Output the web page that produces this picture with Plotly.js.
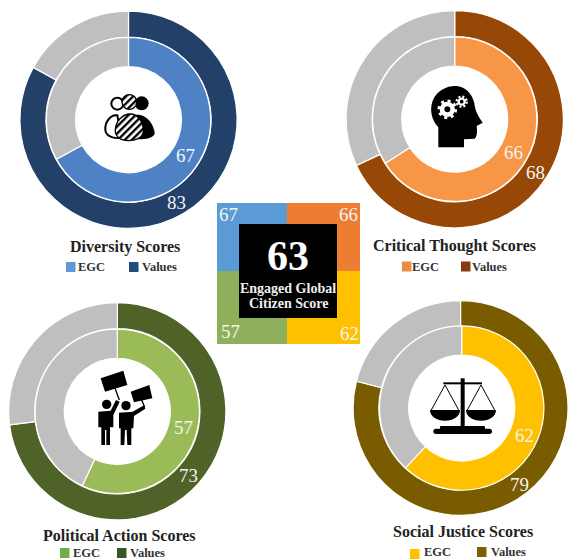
<!DOCTYPE html>
<html><head><meta charset="utf-8">
<script src="https://cdn.plot.ly/plotly-3.0.1.min.js"></script>
<style>html,body{margin:0;padding:0;background:#fff}#c{width:568px;height:560px}</style>
</head><body><div id="c"></div>
<script>
var W=568,H=560;
var chartTitles=["Diversity Scores","Critical Thought Scores","Political Action Scores","Social Justice Scores"];
var egcValues=[67,66,57,62];
var valuesValues=[83,68,73,79];
var overallScore=63;
var overallLabel=["Engaged Global","Citizen Score"];
var legendNames=["EGC","Values"];
var egcColors=["#4f81c5","#f79646","#9bbb59","#ffc000"];
var valueColors=["#234168","#974806","#4f6228","#7a5c00"];
var legendEgcColors=["#5b9bd5","#ed8a43","#70ad47","#ffc000"];
var legendValueColors=["#1f4e79","#843c0c","#375623","#7f6000"];
var tileColors=["#5b9bd5","#ed7d31","#8fb05a","#ffc000"];
var grey="#bfbfbf";
var serif="'Liberation Serif','DejaVu Serif',serif";

function px(x){return x/W;} function py(y){return 1-y/H;}
var centers=[[128.5,119.7],[454.7,119.2],[117.3,411.3],[461.7,408]];
var Router=108.6,RouterIn=82.6,Rinner=82.2,Rhole=53;
var egcLabelPos=[[185,155],[513,153],[183,427],[524,435]];
var valLabelPos=[[177,202],[535,172],[188,475],[519,484]];
var titlePos=[[124.5,246.5],[454.5,245.5],[119.5,535],[463,531]];
var legendBox=[[[66,267],[129,267]],[[402,266.5],[461,266.5]],[[60,553],[117,553]],[[410,554],[477,552]]];
var legendText=[[[78,267],[142,267]],[[412,266.5],[472,266.5]],[[73,553],[130,553]],[[424,552],[491,552]]];

var traces=[],annotations=[],shapes=[],images=[];
function pie(i,vals,colors,r,holeR){
  var c=centers[i];
  return {type:"pie",values:vals,sort:false,direction:"clockwise",rotation:0,hole:holeR/r,
    textinfo:"none",hoverinfo:"none",showlegend:false,
    marker:{colors:colors,line:{color:"#fff",width:1.2}},
    domain:{x:[px(c[0]-r),Math.min(1,px(c[0]+r))],y:[py(c[1]+r),py(c[1]-r)]}};
}
function txt(x,y,t,size,color,bold,anchor){
  annotations.push({xref:"paper",yref:"paper",x:px(x),y:py(y),text:bold?"<b>"+t+"</b>":t,showarrow:false,
    xanchor:anchor||"center",yanchor:"middle",font:{family:serif,size:size,color:color},borderpad:0,borderwidth:0});
}
function rect(x0,y0,x1,y1,color){
  shapes.push({type:"rect",xref:"paper",yref:"paper",x0:px(x0),x1:px(x1),y0:py(y0),y1:py(y1),fillcolor:color,line:{width:0},layer:"above"});
}
for(var i=0;i<4;i++){
  traces.push(pie(i,[valuesValues[i],100-valuesValues[i]],[valueColors[i],grey],Router,RouterIn));
  traces.push(pie(i,[egcValues[i],100-egcValues[i]],[egcColors[i],grey],Rinner,Rhole));
  txt(egcLabelPos[i][0],egcLabelPos[i][1],String(egcValues[i]),19,"#f4f4f4");
  txt(valLabelPos[i][0],valLabelPos[i][1],String(valuesValues[i]),19,"#f4f4f4");
  txt(titlePos[i][0],titlePos[i][1],chartTitles[i],16,"#222",true);
  var lb=legendBox[i],lt=legendText[i];
  rect(lb[0][0],lb[0][1]-5,lb[0][0]+9.5,lb[0][1]+5,legendEgcColors[i]);
  rect(lb[1][0],lb[1][1]-5,lb[1][0]+9.5,lb[1][1]+5,legendValueColors[i]);
  txt(lt[0][0],lt[0][1],legendNames[0],12.5,"#333",true,"left");
  txt(lt[1][0],lt[1][1],legendNames[1],12.5,"#333",true,"left");
}
// centre tile
rect(217,203,287,271,tileColors[0]);
rect(287,203,360,271,tileColors[1]);
rect(217,271,287,344,tileColors[2]);
rect(287,271,360,344,tileColors[3]);
rect(239,224,337,318,"#000");
txt(228,215,String(egcValues[0]),19,"#f4f4f4");
txt(348,215,String(egcValues[1]),19,"#f4f4f4");
txt(230,331,String(egcValues[2]),19,"#f4f4f4");
txt(349,333,String(egcValues[3]),19,"#f4f4f4");
txt(288,256,String(overallScore),42,"#fff",true);
txt(288,288,overallLabel[0],14,"#eee",true);
txt(288,303.5,overallLabel[1],14,"#eee",true);

// icons (decorative glyphs)
var iconDiversity='<defs><pattern id="h" width="15" height="15" patternUnits="userSpaceOnUse" patternTransform="rotate(-45)"><rect width="15" height="15" fill="#fff"/><rect width="15" height="7" fill="#000"/></pattern></defs>'+
 '<circle cx="185" cy="100" r="21"/><path d="M165 135 C200 130 222 165 224 190 C222 205 195 208 175 208 Z"/>'+
 '<circle cx="112" cy="101" r="18" fill="#fff" stroke="#000" stroke-width="6"/>'+
 '<path d="M112 136 C90 132 74 160 76 180 C78 200 105 205 125 205 Z" fill="#fff" stroke="#000" stroke-width="6"/>'+
 '<circle cx="148" cy="96" r="22" fill="url(#h)" stroke="#000" stroke-width="4"/>'+
 '<path d="M148 132 C175 130 192 160 190 185 C188 205 165 212 145 212 C122 212 104 200 106 178 C108 155 125 134 148 132 Z" fill="url(#h)" stroke="#000" stroke-width="4"/>';
var iconHead='<path d="M85 232 L85 172 C65 150 58 120 68 92 C82 58 115 46 140 48 C172 52 192 78 195 112 C197 124 205 140 218 158 L200 168 C202 182 202 200 194 206 L162 208 L162 232 Z"/>'+
 '<circle cx="112" cy="118" r="16" fill="none" stroke="#fff" stroke-width="14"/><circle cx="112" cy="118" r="25" fill="none" stroke="#fff" stroke-width="9" stroke-dasharray="9 10.6"/>'+
 '<circle cx="155" cy="95" r="9" fill="none" stroke="#fff" stroke-width="7"/><circle cx="155" cy="95" r="15" fill="none" stroke="#fff" stroke-width="7" stroke-dasharray="6 5.8"/>';
var iconProtest='<path d="M92 85 L160 62 L172 105 L105 125 Z"/><path d="M182 125 L238 105 L247 145 L192 157 Z"/>'+
 '<path d="M135 115 L148 150" stroke="#000" stroke-width="4"/><path d="M215 150 L224 172" stroke="#000" stroke-width="4"/>'+
 '<circle cx="110" cy="163" r="14"/><circle cx="168" cy="167" r="14"/>'+
 '<path d="M85 185 L122 182 L138 150 L149 155 L130 195 L130 232 L120 232 L120 285 L109 285 L109 240 L105 240 L105 285 L94 285 L94 232 L85 232 Z"/>'+
 '<path d="M147 188 L188 185 L222 166 L226 176 L192 198 L190 235 L184 235 L184 285 L172 285 L170 240 L165 240 L163 285 L152 285 L152 235 L147 235 Z"/>';
var iconScales='<rect x="152" y="55" width="12" height="150"/><rect x="100" y="67" width="116" height="6"/>'+
 '<rect x="90" y="198" width="135" height="12" rx="3"/><rect x="70" y="206" width="176" height="16" rx="8"/>'+
 '<path d="M60 150 H150 C150 170 130 182 105 182 C80 182 60 170 60 150 Z"/><path d="M168 150 H258 C258 170 238 182 213 182 C188 182 168 170 168 150 Z"/>'+
 '<path d="M105 75 L64 150 M105 75 L146 150 M213 75 L172 150 M213 75 L254 150" stroke="#000" stroke-width="3" fill="none"/>';
function icon(body,x,y){
  var svg='<svg xmlns="http://www.w3.org/2000/svg" width="100" height="100" viewBox="0 0 300 300">'+body+'</svg>';
  images.push({source:"data:image/svg+xml;charset=utf-8,"+encodeURIComponent(svg),xref:"paper",yref:"paper",
    x:px(x),y:py(y),sizex:100/W,sizey:100/H,xanchor:"left",yanchor:"top",sizing:"stretch",layer:"above"});
}
icon(iconDiversity,80,70);icon(iconHead,410,70);icon(iconProtest,70,350);icon(iconScales,410,360);

Plotly.newPlot("c",traces,{width:W,height:H,margin:{l:0,r:0,t:0,b:0},paper_bgcolor:"#fff",plot_bgcolor:"#fff",
  showlegend:false,annotations:annotations,shapes:shapes,images:images},{displayModeBar:false,staticPlot:true});
</script></body></html>
